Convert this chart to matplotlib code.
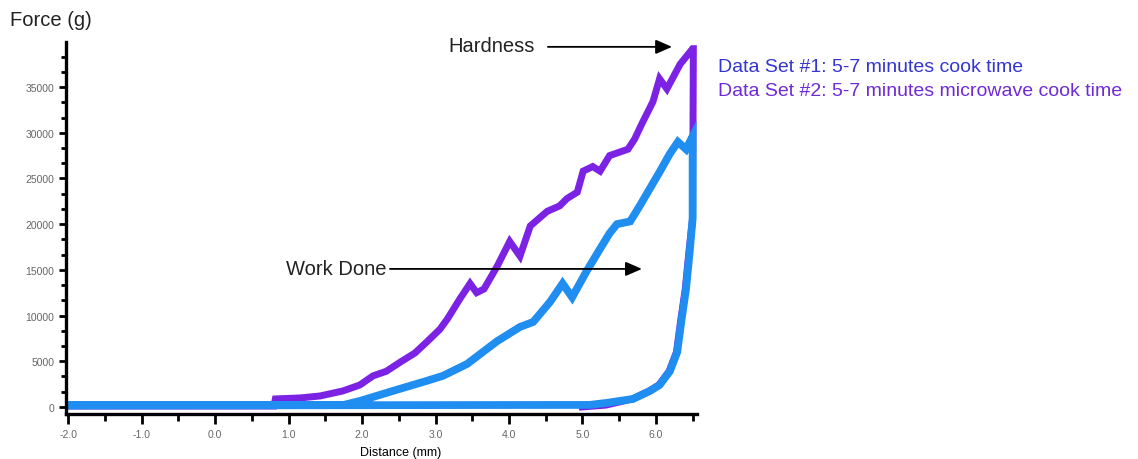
import matplotlib
matplotlib.use('Agg')
import matplotlib.pyplot as plt
from matplotlib.ticker import MultipleLocator, FixedLocator

plt.rcParams['font.family'] = ['Liberation Sans', 'DejaVu Sans']

# Data Set #2 (microwave) - loading then unloading
set2_x = [-2.0, 0.80, 0.82, 1.16, 1.43, 1.74, 1.97, 2.15, 2.33, 2.52, 2.72, 2.88, 3.06,
          3.16, 3.33, 3.47, 3.56, 3.66, 3.84, 4.01, 4.15, 4.29, 4.52, 4.69, 4.79,
          4.93, 5.01, 5.14, 5.24, 5.37, 5.62, 5.71, 5.81, 5.96, 6.05, 6.15, 6.33,
          6.50, 6.51, 6.50, 6.45, 6.40, 6.34, 6.28, 6.18, 6.04, 5.91, 5.68, 5.32, 5.00]
set2_y = [100, 100, 875, 985, 1200, 1750, 2400, 3400, 3900, 4900, 5900, 7100, 8500,
          9600, 11800, 13500, 12500, 12900, 15400, 18100, 16500, 19800, 21400, 22000, 22800,
          23500, 25800, 26300, 25800, 27500, 28200, 29300, 31000, 33400, 35900, 34800, 37500,
          39200, 39200, 20600, 17000, 12900, 9600, 6000, 3900, 2400, 1750, 875, 200, 0]

# Data Set #1 (cook) - loading then unloading
set1_x = [-2.0, 1.74, 1.97, 2.42, 2.88, 3.10, 3.43, 3.61, 3.84, 4.15, 4.33, 4.56, 4.73,
          4.86, 5.06, 5.24, 5.37, 5.47, 5.65, 5.78, 6.05, 6.19, 6.30, 6.41, 6.50,
          6.50, 6.46, 6.41, 6.35, 6.29, 6.19, 6.05, 5.92, 5.69, 5.33, 5.10, -2.0]
set1_y = [200, 200, 650, 1750, 2850, 3400, 4700, 5800, 7200, 8750, 9300, 11500, 13500,
          12000, 14900, 17300, 19000, 20000, 20300, 22000, 25700, 27700, 29000, 28200, 29600,
          20600, 17000, 12900, 9600, 6000, 3900, 2400, 1750, 875, 440, 220, 150]

x_ticks = [-2.0, -1.0, 0.0, 1.0, 2.0, 3.0, 4.0, 5.0, 6.0]
x_labels = ['-2.0', '-1.0', '0.0', '1.0', '2.0', '3.0', '4.0', '5.0', '6.0']
y_ticks = [0, 5000, 10000, 15000, 20000, 25000, 30000, 35000]

purple = '#7b22e4'
blue = '#1f8ef0'

fig = plt.figure(figsize=(11.38, 4.6), dpi=100)
ax = fig.add_axes([0.058, 0.098, 0.5545, 0.8085])

ax.plot(set2_x, set2_y, color=purple, lw=5, solid_joinstyle='miter')
ax.plot(set1_x, set1_y, color=blue, lw=5.6, solid_joinstyle='miter')

ax.set_xlim(-2.03, 6.56)
ax.set_ylim(-766, 39930)

ax.spines['top'].set_visible(False)
ax.spines['right'].set_visible(False)
ax.spines['left'].set_linewidth(2.4)
ax.spines['bottom'].set_linewidth(2.4)

ax.set_xticks(x_ticks)
ax.set_xticklabels(x_labels)
ax.xaxis.set_minor_locator(FixedLocator([-1.5, -0.5, 0.5, 1.5, 2.5, 3.5, 4.5, 5.5, 6.5]))
ax.set_yticks(y_ticks)
ax.yaxis.set_minor_locator(MultipleLocator(5000 / 3))

ax.tick_params(axis='both', which='major', labelsize=7.5, labelcolor='#666666',
               width=2, length=5, color='black')
ax.tick_params(axis='both', which='minor', width=2, length=3.5, color='black')
ax.tick_params(axis='x', which='major', length=7)
ax.tick_params(axis='x', which='minor', length=5)

ax.set_xlabel('Distance (mm)', fontsize=9, color='black', labelpad=3)
ax.xaxis.set_label_coords(0.53, -0.085)

fig.text(0.009, 0.955, 'Force (g)', fontsize=14.5, color='#222222', va='center', ha='left')

# annotations
arrow = dict(arrowstyle='-|>,head_length=0.55,head_width=0.24', color='black', lw=1.3,
             mutation_scale=18, shrinkA=0, shrinkB=0)
ax.annotate('', xy=(6.22, 39400), xytext=(4.53, 39400), arrowprops=arrow, annotation_clip=False)
ax.text(4.35, 39500, 'Hardness', fontsize=14.5, color='#222222', ha='right', va='center', clip_on=False)
ax.annotate('', xy=(5.81, 15100), xytext=(2.38, 15100), arrowprops=arrow)
ax.text(2.33, 15200, 'Work Done', fontsize=14.5, color='#222222', ha='right', va='center')

fig.text(0.631, 1 - 68 / 460, 'Data Set #1: 5-7 minutes cook time', fontsize=14,
         color='#3535d0', va='center', ha='left')
fig.text(0.631, 1 - 92 / 460, 'Data Set #2: 5-7 minutes microwave cook time', fontsize=14,
         color='#6e2bd6', va='center', ha='left')

fig.savefig('out.png', dpi=100)
